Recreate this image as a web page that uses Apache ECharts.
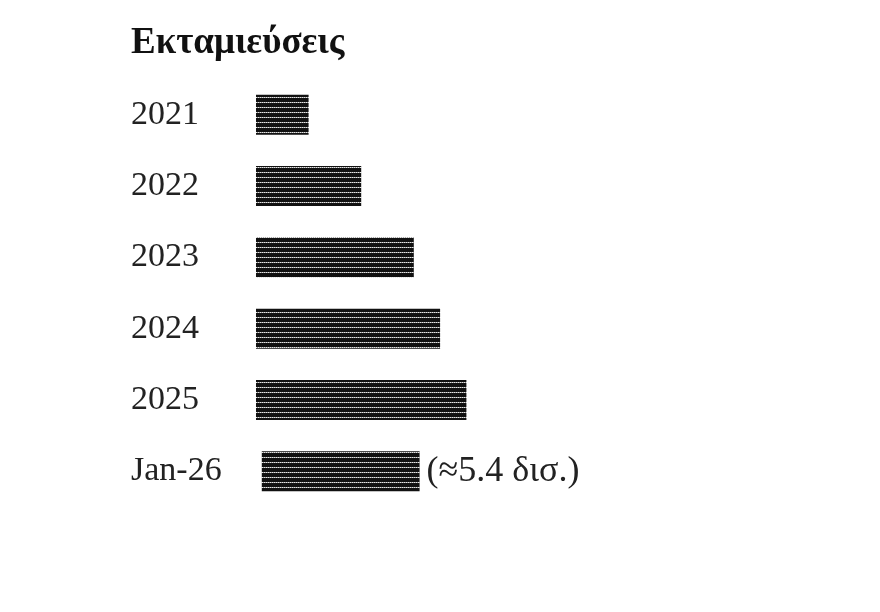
<!DOCTYPE html>
<html>
<head>
<meta charset="utf-8">
<script src="https://cdn.jsdelivr.net/npm/echarts@6/dist/echarts.min.js"></script>
<style>
  html, body { margin: 0; padding: 0; background: #fff; }
  #main { width: 880px; height: 612px; }
</style>
</head>
<body>
<div id="main"></div>
<script>
// κατηγορίες και μήκος μπάρας (σε "τετράγωνα" ▓ όπως στο πρωτότυπο)
const periods = ['2021', '2022', '2023', '2024', '2025', 'Jan-26'];
const blocks = [2, 4, 6, 7, 8, 6];
const leadGap = [0, 0, 0, 0, 0, 0.22];   // το Jan-26 ξεκινά λίγο πιο δεξιά
const notes = ['', '', '', '', '', '(≈5.4 δισ.)'];

// μοτίβο: μαύρο με λευκές διακεκομμένες γραμμές, σαν τον χαρακτήρα ▓
function shadePattern() {
    const c = document.createElement('canvas');
    c.width = 4; c.height = 5;
    const ctx = c.getContext('2d');
    ctx.fillStyle = '#111';
    ctx.fillRect(0, 0, 4, 5);
    ctx.fillStyle = '#e6e6e6';
    ctx.fillRect(0, 2, 1, 1);
    ctx.fillRect(2, 2, 1, 1);
    ctx.fillStyle = '#888';
    ctx.fillRect(1, 2, 1, 1);
    ctx.fillRect(3, 2, 1, 1);
    return c;
}

const serif = '"Liberation Serif", "DejaVu Serif", serif';
const myChart = echarts.init(document.getElementById('main'));
myChart.setOption({
    animation: false,
    title: {
        text: 'Εκταμιεύσεις',
        left: 126,
        top: 20,
        textStyle: { fontFamily: serif, fontSize: 37, fontWeight: 'bold', color: '#111' }
    },
    grid: { left: 256, top: 79, width: 263, height: 428 },
    xAxis: {
        type: 'value',
        min: 0,
        max: 10,
        show: false
    },
    yAxis: {
        type: 'category',
        data: periods,
        inverse: true,
        axisLine: { show: false },
        axisTick: { show: false },
        splitLine: { show: false },
        axisLabel: {
            align: 'left',
            margin: 125,
            fontFamily: serif,
            fontSize: 34,
            color: '#222'
        }
    },
    series: [
        {
            type: 'bar',
            stack: 'b',
            data: leadGap,
            barWidth: 40,
            itemStyle: { color: 'transparent' },
            silent: true
        },
        {
            type: 'bar',
            stack: 'b',
            data: blocks,
            barWidth: 40,
            itemStyle: { color: { image: shadePattern(), repeat: 'repeat' } },
            label: {
                show: true,
                position: 'right',
                distance: 7,
                fontFamily: serif,
                fontSize: 36,
                color: '#222',
                formatter: p => notes[p.dataIndex]
            }
        }
    ]
});
</script>
</body>
</html>
